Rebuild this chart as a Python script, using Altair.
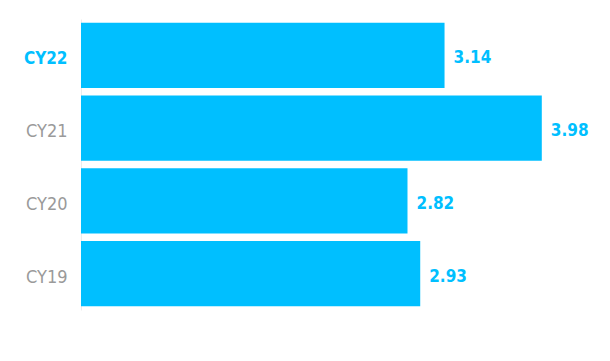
import altair as alt
import pandas as pd

years = ["CY22", "CY21", "CY20", "CY19"]
values = [3.14, 3.98, 2.82, 2.93]
labels = ["3.14", "3.98", "2.82", "2.93"]

df = pd.DataFrame({"year": years, "value": values, "label": labels})

BLUE = "#00BFFF"
FONT = "DejaVu Sans Condensed"

y_enc = alt.Y(
    "year:N",
    sort=years,
    scale=alt.Scale(paddingInner=0.1, paddingOuter=0.05),
    axis=alt.Axis(
        title=None,
        ticks=False,
        domain=True,
        domainColor="#ececec",
        labelPadding=14,
        labelOffset=4,
        labelFont=FONT,
        labelFontSize=alt.expr("datum.value == 'CY22' ? 17 : 18"),
        labelColor=alt.expr("datum.value == 'CY22' ? '#00BFFF' : '#9a9a9a'"),
        labelFontWeight=alt.expr("datum.value == 'CY22' ? 'bold' : 'normal'"),
    ),
)
x_enc = alt.X(
    "value:Q",
    scale=alt.Scale(domain=[0, 4.5], nice=False),
    axis=None,
)

bars = alt.Chart(df).mark_bar(color=BLUE).encode(x=x_enc, y=y_enc)
text = alt.Chart(df).mark_text(
    align="left", baseline="middle", dx=9, dy=3, font=FONT, fontSize=17,
    fontWeight="bold", color=BLUE
).encode(x=x_enc, y=y_enc, text="label:N")

chart = (bars + text).properties(
    width=521, height=291,
    autosize=alt.AutoSizeParams(type="none"),
    padding={"left": 81, "top": 19, "right": 8, "bottom": 51},
).configure(background="white").configure_view(stroke="transparent", strokeWidth=0)

chart.save("out.html", embed_options={"renderer": "svg", "actions": False})
